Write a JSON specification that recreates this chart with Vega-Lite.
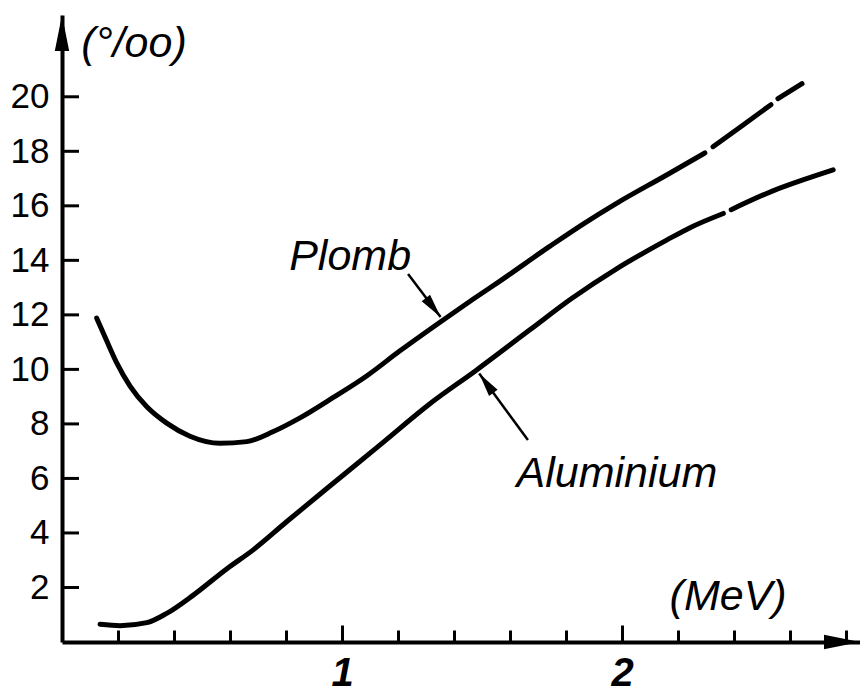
{
  "$schema": "https://vega.github.io/schema/vega-lite/v6.json",
  "width": 798,
  "height": 627,
  "autosize": {"type": "none"},
  "padding": {"left": 62, "top": 15, "right": 0, "bottom": 50},
  "config": {"view": {"stroke": null}, "font": "Liberation Sans"},
  "datasets": {
    "curves": [
      {"material": "Plomb", "seg": "P1", "x": 0.124, "y": 11.88},
      {"material": "Plomb", "seg": "P1", "x": 0.16, "y": 11.04},
      {"material": "Plomb", "seg": "P1", "x": 0.195, "y": 10.25},
      {"material": "Plomb", "seg": "P1", "x": 0.243, "y": 9.39},
      {"material": "Plomb", "seg": "P1", "x": 0.303, "y": 8.63},
      {"material": "Plomb", "seg": "P1", "x": 0.374, "y": 8.03},
      {"material": "Plomb", "seg": "P1", "x": 0.457, "y": 7.55},
      {"material": "Plomb", "seg": "P1", "x": 0.564, "y": 7.29},
      {"material": "Plomb", "seg": "P1", "x": 0.66, "y": 7.35},
      {"material": "Plomb", "seg": "P1", "x": 0.755, "y": 7.72},
      {"material": "Plomb", "seg": "P1", "x": 0.85, "y": 8.22},
      {"material": "Plomb", "seg": "P1", "x": 0.969, "y": 8.97},
      {"material": "Plomb", "seg": "P1", "x": 1.088, "y": 9.76},
      {"material": "Plomb", "seg": "P1", "x": 1.207, "y": 10.68},
      {"material": "Plomb", "seg": "P1", "x": 1.35, "y": 11.73},
      {"material": "Plomb", "seg": "P1", "x": 1.469, "y": 12.58},
      {"material": "Plomb", "seg": "P1", "x": 1.564, "y": 13.24},
      {"material": "Plomb", "seg": "P1", "x": 1.743, "y": 14.52},
      {"material": "Plomb", "seg": "P1", "x": 1.861, "y": 15.33},
      {"material": "Plomb", "seg": "P1", "x": 1.982, "y": 16.1},
      {"material": "Plomb", "seg": "P1", "x": 2.161, "y": 17.14},
      {"material": "Plomb", "seg": "P1", "x": 2.296, "y": 17.94},
      {"material": "Plomb", "seg": "P2", "x": 2.325, "y": 18.17},
      {"material": "Plomb", "seg": "P2", "x": 2.429, "y": 18.94},
      {"material": "Plomb", "seg": "P2", "x": 2.532, "y": 19.71},
      {"material": "Plomb", "seg": "P3", "x": 2.557, "y": 19.93},
      {"material": "Plomb", "seg": "P3", "x": 2.643, "y": 20.48},
      {"material": "Aluminium", "seg": "A1", "x": 0.136, "y": 0.65},
      {"material": "Aluminium", "seg": "A1", "x": 0.207, "y": 0.6},
      {"material": "Aluminium", "seg": "A1", "x": 0.303, "y": 0.71},
      {"material": "Aluminium", "seg": "A1", "x": 0.374, "y": 1.05},
      {"material": "Aluminium", "seg": "A1", "x": 0.469, "y": 1.72},
      {"material": "Aluminium", "seg": "A1", "x": 0.588, "y": 2.68},
      {"material": "Aluminium", "seg": "A1", "x": 0.683, "y": 3.38},
      {"material": "Aluminium", "seg": "A1", "x": 0.802, "y": 4.41},
      {"material": "Aluminium", "seg": "A1", "x": 0.96, "y": 5.75},
      {"material": "Aluminium", "seg": "A1", "x": 1.136, "y": 7.23},
      {"material": "Aluminium", "seg": "A1", "x": 1.314, "y": 8.74},
      {"material": "Aluminium", "seg": "A1", "x": 1.481, "y": 9.98},
      {"material": "Aluminium", "seg": "A1", "x": 1.671, "y": 11.45},
      {"material": "Aluminium", "seg": "A1", "x": 1.82, "y": 12.6},
      {"material": "Aluminium", "seg": "A1", "x": 1.982, "y": 13.7},
      {"material": "Aluminium", "seg": "A1", "x": 2.161, "y": 14.75},
      {"material": "Aluminium", "seg": "A1", "x": 2.243, "y": 15.2},
      {"material": "Aluminium", "seg": "A1", "x": 2.362, "y": 15.72},
      {"material": "Aluminium", "seg": "A2", "x": 2.39, "y": 15.86},
      {"material": "Aluminium", "seg": "A2", "x": 2.539, "y": 16.55},
      {"material": "Aluminium", "seg": "A2", "x": 2.646, "y": 16.95},
      {"material": "Aluminium", "seg": "A2", "x": 2.754, "y": 17.32}
    ],
    "yticks": [
      {"v": 2}, {"v": 4}, {"v": 6}, {"v": 8}, {"v": 10},
      {"v": 12}, {"v": 14}, {"v": 16}, {"v": 18}, {"v": 20}
    ],
    "arrows": [
      {"label": "Plomb", "x": 1.236, "y": 13.5, "x2": 1.352, "y2": 11.92},
      {"label": "Aluminium", "x": 1.664, "y": 7.41, "x2": 1.49, "y2": 9.85}
    ],
    "labels": [
      {"text": "Plomb", "x": 1.029, "y": 13.65},
      {"text": "Aluminium", "x": 1.982, "y": 5.69},
      {"text": "(MeV)", "x": 2.379, "y": 1.17},
      {"text": "(°/oo)", "x": 0.257, "y": 21.47}
    ]
  },
  "layer": [
    {
      "data": {"name": "curves"},
      "mark": {"type": "line", "interpolate": "monotone", "strokeWidth": 5, "strokeCap": "round", "strokeJoin": "round", "color": "black"},
      "encoding": {
        "x": {
          "field": "x", "type": "quantitative",
          "scale": {"domain": [0, 2.85], "nice": false, "zero": false},
          "axis": {
            "title": null, "grid": false,
            "values": [0.2, 0.4, 0.6, 0.8, 1, 1.2, 1.4, 1.6, 1.8, 2, 2.2, 2.4, 2.6, 2.8],
            "domainColor": "black", "domainWidth": 4, "domainCap": "butt",
            "tickColor": "black", "tickWidth": 3,
            "tickSize": {"condition": {"test": "datum.value == 1 || datum.value == 2", "value": -17}, "value": -12},
            "labelExpr": "datum.value == 1 ? '1' : datum.value == 2 ? '2' : ''",
            "labelFontSize": 40, "labelFontStyle": "italic", "labelFontWeight": "bold",
            "labelColor": "black", "labelPadding": 28, "labelBaseline": "top",
            "labelFlush": false, "labelOverlap": false
          }
        },
        "y": {
          "field": "y", "type": "quantitative",
          "scale": {"domain": [0, 23], "nice": false, "zero": false},
          "axis": {
            "title": null, "grid": false, "ticks": false,
            "values": [2, 4, 6, 8, 10, 12, 14, 16, 18, 20],
            "domainColor": "black", "domainWidth": 4, "domainCap": "butt",
            "labelFontSize": 35, "labelColor": "black", "labelPadding": 13,
            "labelFlush": false, "labelOverlap": false
          }
        },
        "detail": {"field": "seg"}
      }
    },
    {
      "data": {"name": "yticks"},
      "mark": {"type": "rule", "strokeWidth": 3, "color": "black", "opacity": 1},
      "encoding": {
        "x": {"datum": 0, "type": "quantitative"},
        "x2": {"datum": 0.0607},
        "y": {"field": "v", "type": "quantitative"}
      }
    },
    {
      "data": {"name": "arrows"},
      "mark": {"type": "rule", "strokeWidth": 2.5, "color": "black"},
      "encoding": {
        "x": {"field": "x", "type": "quantitative"},
        "y": {"field": "y", "type": "quantitative"},
        "x2": {"field": "x2"},
        "y2": {"field": "y2"}
      }
    },
    {
      "data": {"name": "arrows"},
      "transform": [{"filter": "datum.label == 'Plomb'"}],
      "mark": {"type": "point", "shape": "M0,0L0.22,1L-0.22,1Z", "size": 2304, "filled": true, "color": "black", "opacity": 1, "strokeWidth": 0, "angle": 142.3},
      "encoding": {
        "x": {"field": "x2", "type": "quantitative"},
        "y": {"field": "y2", "type": "quantitative"}
      }
    },
    {
      "data": {"name": "arrows"},
      "transform": [{"filter": "datum.label == 'Aluminium'"}],
      "mark": {"type": "point", "shape": "M0,0L0.22,1L-0.22,1Z", "size": 2304, "filled": true, "color": "black", "opacity": 1, "strokeWidth": 0, "angle": 323.9},
      "encoding": {
        "x": {"field": "x2", "type": "quantitative"},
        "y": {"field": "y2", "type": "quantitative"}
      }
    },
    {
      "data": {"values": [{"axis": "y"}]},
      "mark": {"type": "point", "shape": "M0,0L0.2,1L-0.2,1Z", "size": 5184, "filled": true, "color": "black", "opacity": 1, "strokeWidth": 0, "angle": 0},
      "encoding": {
        "x": {"datum": 0, "type": "quantitative"},
        "y": {"datum": 23, "type": "quantitative"}
      }
    },
    {
      "data": {"values": [{"axis": "x"}]},
      "mark": {"type": "point", "shape": "M0,0L0.2,1L-0.2,1Z", "size": 5184, "filled": true, "color": "black", "opacity": 1, "strokeWidth": 0, "angle": 90},
      "encoding": {
        "x": {"datum": 2.85, "type": "quantitative"},
        "y": {"datum": 0, "type": "quantitative"}
      }
    },
    {
      "data": {"name": "labels"},
      "mark": {"type": "text", "fontSize": 43, "fontStyle": "italic", "align": "center", "baseline": "alphabetic", "color": "black"},
      "encoding": {
        "x": {"field": "x", "type": "quantitative"},
        "y": {"field": "y", "type": "quantitative"},
        "text": {"field": "text"}
      }
    }
  ]
}
